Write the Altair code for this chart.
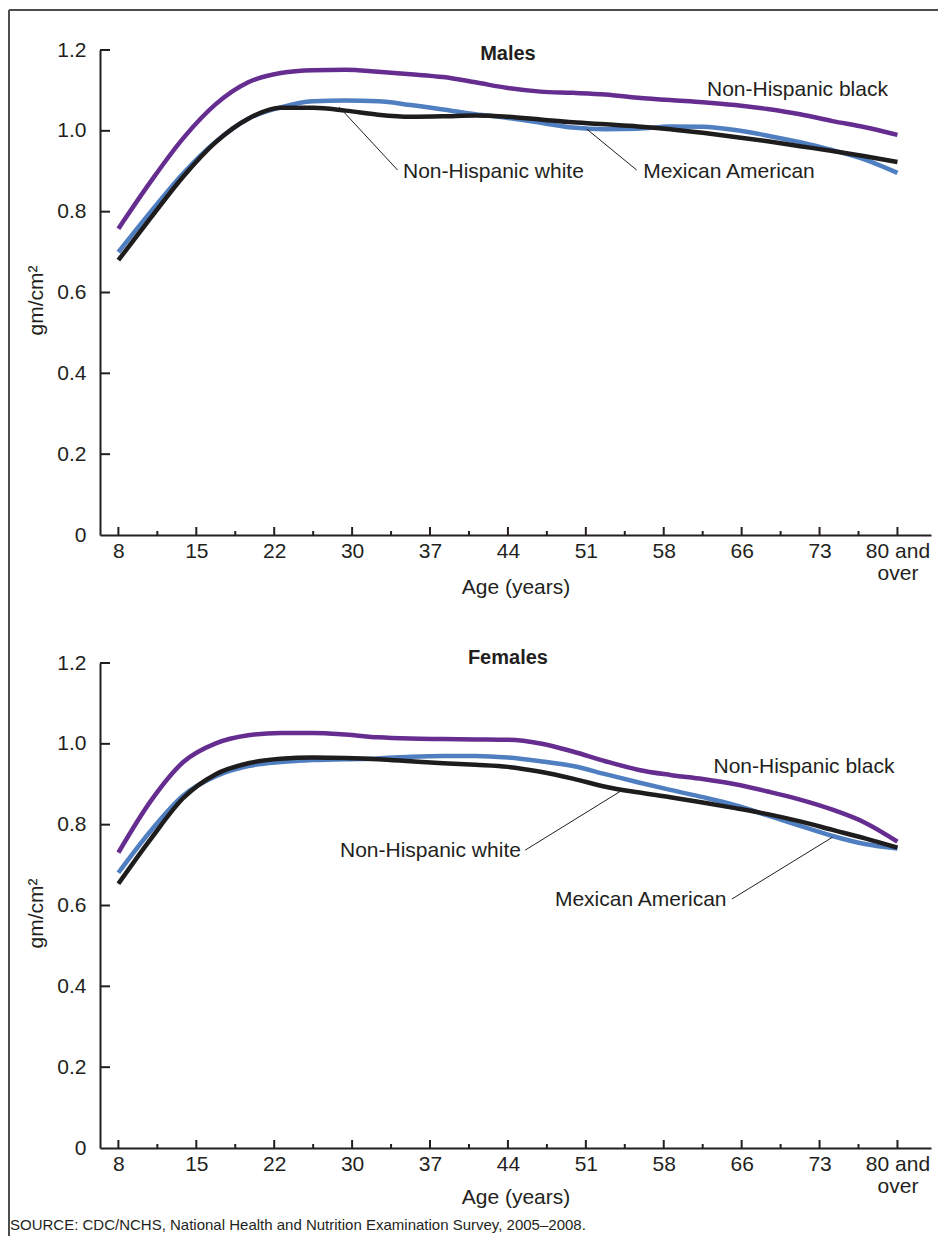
import altair as alt
import pandas as pd

FONT = "Liberation Sans"
INK = "#231f20"
FRAME = "#4d4d4d"

# ---------------- data ----------------
ages = [8, 11, 14, 17, 20, 23, 26, 29, 32, 35, 38, 41, 44, 47, 50, 53, 56, 59, 62, 65, 68, 71, 74, 77, 80]

male_black = [0.758, 0.875, 0.982, 1.066, 1.120, 1.143, 1.150, 1.151, 1.146, 1.140, 1.133, 1.120, 1.106,
              1.097, 1.094, 1.090, 1.082, 1.076, 1.071, 1.064, 1.054, 1.041, 1.024, 1.009, 0.990]
male_white = [0.680, 0.785, 0.887, 0.972, 1.030, 1.057, 1.057, 1.050, 1.040, 1.035, 1.036, 1.038, 1.035,
              1.028, 1.021, 1.016, 1.011, 1.004, 0.995, 0.985, 0.974, 0.962, 0.950, 0.937, 0.923]
male_mexican = [0.700, 0.800, 0.895, 0.973, 1.030, 1.058, 1.073, 1.075, 1.073, 1.064, 1.053, 1.041, 1.032,
                1.020, 1.008, 1.004, 1.005, 1.011, 1.010, 1.002, 0.988, 0.972, 0.952, 0.929, 0.896]

female_black = [0.731, 0.859, 0.955, 1.001, 1.021, 1.027, 1.027, 1.023, 1.016, 1.013, 1.012, 1.011, 1.010,
                1.001, 0.981, 0.957, 0.936, 0.923, 0.913, 0.900, 0.882, 0.862, 0.837, 0.805, 0.758]
female_white = [0.654, 0.765, 0.866, 0.925, 0.952, 0.963, 0.966, 0.965, 0.962, 0.957, 0.952, 0.948, 0.943,
                0.931, 0.914, 0.894, 0.880, 0.868, 0.855, 0.841, 0.826, 0.808, 0.787, 0.766, 0.743]
female_mexican = [0.681, 0.785, 0.872, 0.920, 0.945, 0.955, 0.960, 0.962, 0.964, 0.968, 0.970, 0.970, 0.966,
                  0.957, 0.945, 0.925, 0.905, 0.886, 0.868, 0.848, 0.823, 0.797, 0.772, 0.752, 0.741]

groups = ["Mexican American", "Non-Hispanic white", "Non-Hispanic black"]
colors = ["#4f7fc1", "#1f1c1d", "#662d91"]

x_tick_values = [8, 15.2, 22.4, 29.6, 36.8, 44, 51.2, 58.4, 65.6, 72.8, 80]
x_tick_labels = ["8", "15", "22", "30", "37", "44", "51", "58", "66", "73", "80 and|over"]
x_minor_values = [11.6, 18.8, 26, 33.2, 40.4, 47.6, 54.8, 62, 69.2, 76.4]
y_tick_values = [0, 0.2, 0.4, 0.6, 0.8, 1.0, 1.2]
y_tick_marks = [0.2, 0.4, 0.6, 0.8, 1.0, 1.2]

x_domain = [6.3, 83.1]
y_domain = [0, 1.2]

# annotation labels: text, age, value, alignment
male_label_text = ["Non-Hispanic black", "Non-Hispanic white", "Mexican American"]
male_label_age = [62.4, 34.3, 56.5]
male_label_value = [1.101, 0.898, 0.898]
male_label_align = ["left", "left", "left"]

female_label_text = ["Non-Hispanic black", "Non-Hispanic white", "Mexican American"]
female_label_age = [63.0, 45.2, 64.2]
female_label_value = [0.943, 0.735, 0.614]
female_label_align = ["left", "right", "right"]

# leader lines: (age, value) -> (age2, value2)
male_leader_age = [28.4, 51.3]
male_leader_value = [1.059, 1.004]
male_leader_age2 = [33.8, 55.9]
male_leader_value2 = [0.903, 0.903]

female_leader_age = [45.6, 64.7]
female_leader_value = [0.737, 0.616]
female_leader_age2 = [54.6, 74.0]
female_leader_value2 = [0.886, 0.769]

source_text = "SOURCE: CDC/NCHS, National Health and Nutrition Examination Survey, 2005\u20132008."

# ---------------- helpers ----------------
x_scale = alt.Scale(domain=x_domain, nice=False, zero=False)
y_scale = alt.Scale(domain=y_domain, nice=False, zero=False)

items = []
for lab in x_tick_labels:
    parts = lab.split("|")
    if len(parts) == 1:
        items.append("'" + parts[0] + "'")
    else:
        items.append("[" + ",".join("'" + p + "'" for p in parts) + "]")
x_label_expr = ("[" + ",".join(items) + "][indexof([" +
                ",".join(str(v) for v in x_tick_values) + "], datum.value)]")


def make_panel(series, label_cols, leader_cols, title, title_value, x_title_y, extra_layers):
    rows = []
    for g, vals in zip(groups, series):
        for a, v in zip(ages, vals):
            rows.append({"age": a, "value": v, "group": g})
    df = pd.DataFrame(rows)

    x_axis = alt.Axis(
        values=x_tick_values, labelExpr=x_label_expr, ticks=False, tickSize=0,
        domainColor=INK, domainWidth=2, grid=False,
        labelFont=FONT, labelFontSize=21, labelColor=INK, labelPadding=5,
        labelLineHeight=22, labelOverlap=False, labelFlush=False,
        title="Age (years)", titleFont=FONT, titleFontSize=21, titleFontWeight="normal",
        titleColor=INK, titleY=x_title_y, titleBaseline="middle",
    )
    y_axis = alt.Axis(
        values=y_tick_values,
        labelExpr="datum.value == 0 ? '0' : format(datum.value, '.1f')",
        ticks=False, tickSize=0, domainColor=INK, domainWidth=2, grid=False,
        labelFont=FONT, labelFontSize=21, labelColor=INK, labelPadding=14,
        title="gm/cm\u00b2", titleFont=FONT, titleFontSize=21, titleFontWeight="normal",
        titleColor=INK, titleX=-64, titleY=250, titleAlign="center", titleBaseline="middle",
    )

    lines = alt.Chart(df).mark_line(strokeWidth=4.5, interpolate="monotone").encode(
        x=alt.X("age:Q", scale=x_scale, axis=x_axis),
        y=alt.Y("value:Q", scale=y_scale, axis=y_axis),
        color=alt.Color("group:N", scale=alt.Scale(domain=groups, range=colors), legend=None),
    )

    major_x = alt.Chart(pd.DataFrame({"age": x_tick_values})).mark_tick(
        orient="vertical", size=8, thickness=2, color=INK, yOffset=-4, opacity=1
    ).encode(
        x=alt.X("age:Q", scale=x_scale),
        y=alt.YDatum(0, scale=y_scale),
    )
    minor_x = alt.Chart(pd.DataFrame({"age": x_minor_values})).mark_tick(
        orient="vertical", size=4, thickness=2, color=INK, yOffset=-2, opacity=1
    ).encode(
        x=alt.X("age:Q", scale=x_scale),
        y=alt.YDatum(0, scale=y_scale),
    )
    major_y = alt.Chart(pd.DataFrame({"value": y_tick_marks})).mark_tick(
        orient="horizontal", size=10, thickness=2, color=INK, xOffset=5, opacity=1
    ).encode(
        y=alt.Y("value:Q", scale=y_scale),
        x=alt.XDatum(x_domain[0], scale=x_scale),
    )

    ltext, lage, lval, lalign = label_cols
    lab_df = pd.DataFrame({"t": ltext, "age": lage, "value": lval, "align": lalign})
    texts = []
    for al in ["left", "right"]:
        texts.append(
            alt.Chart(lab_df).transform_filter(alt.datum.align == al).mark_text(
                align=al, baseline="middle", font=FONT, fontSize=21, color=INK
            ).encode(
                x=alt.X("age:Q", scale=x_scale),
                y=alt.Y("value:Q", scale=y_scale),
                text="t:N",
            )
        )

    la, lv, la2, lv2 = leader_cols
    leaders = alt.Chart(pd.DataFrame({"age": la, "value": lv, "a2": la2, "v2": lv2})).mark_rule(
        color=INK, strokeWidth=1
    ).encode(
        x=alt.X("age:Q", scale=x_scale),
        y=alt.Y("value:Q", scale=y_scale),
        x2="a2:Q", y2="v2:Q",
    )

    title_mark = alt.Chart(pd.DataFrame({"t": [title], "age": [44.0], "value": [title_value]})).mark_text(
        align="center", baseline="middle", font=FONT, fontSize=20, fontWeight="bold", color=INK
    ).encode(
        x=alt.X("age:Q", scale=x_scale),
        y=alt.Y("value:Q", scale=y_scale),
        text="t:N",
    )

    layers = [lines, major_x, minor_x, major_y, leaders] + texts + [title_mark] + extra_layers
    return alt.layer(*layers).properties(width=831, height=485)


one = pd.DataFrame({"k": [0]})
frame_top = alt.Chart(one).mark_rule(color=FRAME, strokeWidth=2).encode(
    x=alt.value(-91), x2=alt.value(838), y=alt.value(-40)
)
frame_left = alt.Chart(one).mark_rule(color=FRAME, strokeWidth=2).encode(
    x=alt.value(-91), y=alt.value(-40), y2=alt.value(1186)
)
source = alt.Chart(pd.DataFrame({"t": [source_text]})).mark_text(
    align="left", baseline="middle", font=FONT, fontSize=15, color=INK
).encode(x=alt.value(-90), y=alt.value(562), text="t:N")

males = make_panel(
    [male_mexican, male_white, male_black],
    (male_label_text, male_label_age, male_label_value, male_label_align),
    (male_leader_age, male_leader_value, male_leader_age2, male_leader_value2),
    "Males", 1.19, 52, [frame_top, frame_left],
)
females = make_panel(
    [female_mexican, female_white, female_black],
    (female_label_text, female_label_age, female_label_value, female_label_align),
    (female_leader_age, female_leader_value, female_leader_age2, female_leader_value2),
    "Females", 1.213, 49, [source],
)

chart = alt.vconcat(males, females, spacing=128, bounds="flush").properties(
    padding={"left": 0, "top": 1, "right": 0, "bottom": 0},
    background="white",
).configure(font=FONT).configure_view(strokeWidth=0)

chart.save("out.html", embed_options={"renderer": "svg", "actions": False})
